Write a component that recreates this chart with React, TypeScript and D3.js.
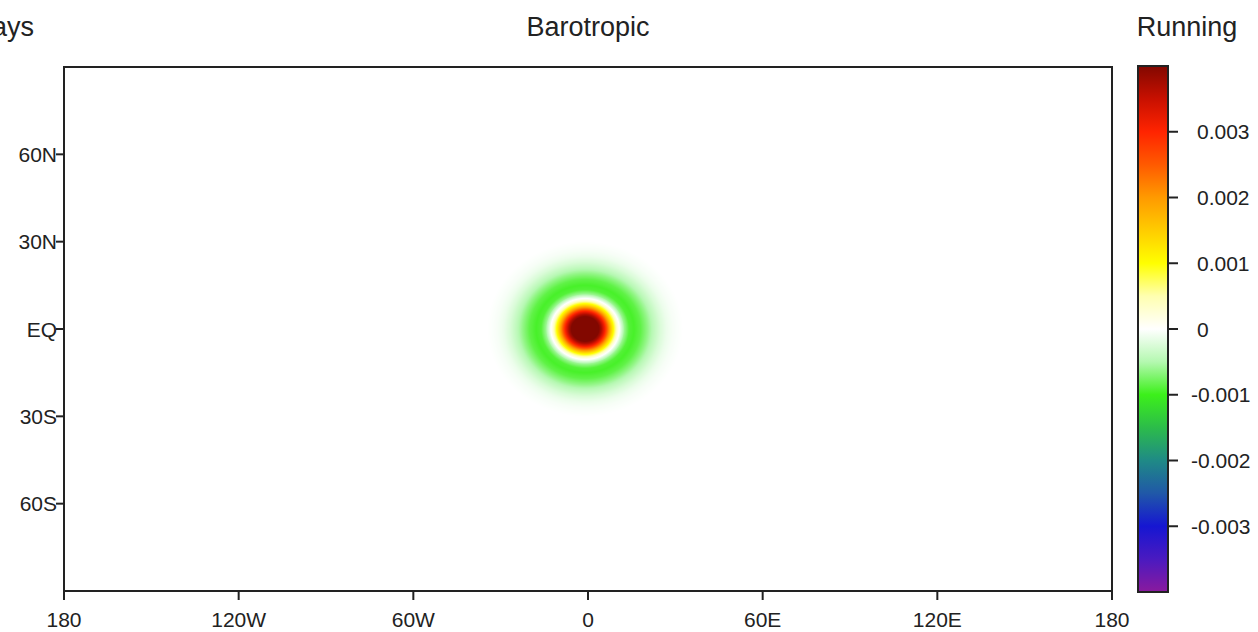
import React, { useEffect, useState } from "react";
import * as d3 from "d3";

// Axis ticks and labels
const lonTicks = [-180, -120, -60, 0, 60, 120, 180];
const lonLabels = ["180", "120W", "60W", "0", "60E", "120E", "180"];
const latTicks = [60, 30, 0, -30, -60];
const latLabels = ["60N", "30N", "EQ", "30S", "60S"];

// Colour bar ticks and labels
const barTicks = [0.003, 0.002, 0.001, 0, -0.001, -0.002, -0.003];
const barLabels = ["0.003", "0.002", "0.001", "0", "-0.001", "-0.002", "-0.003"];

// Colour map stops (value -> colour)
const cmapValues = [-0.004, -0.0035, -0.003, -0.0025, -0.002, -0.0015, -0.001, -0.0005, 0, 0.0005, 0.001, 0.0015, 0.002, 0.0025, 0.003, 0.0035, 0.004];
const cmapColors = ["#8a1a9e", "#4a1ac0", "#1616d2", "#2058a8", "#1f8a86", "#2cbc4a", "#3cf01a", "#b4f8b0", "#ffffff", "#ffffb0", "#ffff00", "#ffcc00", "#ff9a00", "#ff5a00", "#ff2400", "#c81000", "#820800"];

// Radial profile of the anomaly around its centre (degrees -> value)
const profileRadius = [0, 3, 4, 5, 6, 7, 8, 9, 10, 11, 12, 13.5, 15, 17, 19, 21, 23, 25, 27, 30];
const profileValue = [0.0046, 0.0043, 0.0041, 0.0037, 0.0031, 0.0023, 0.0015, 0.0008, 0.0002, -0.0002, -0.0006, -0.0009, -0.00095, -0.00085, -0.00065, -0.00043, -0.00025, -0.00012, -0.00005, 0];
const centreLon = -1;
const centreLat = 0;
const lonStretch = 1.12;

const W = 1258;
const H = 632;
const plot = { left: 64, right: 1112, top: 67, bottom: 591 };
const bar = { left: 1138, right: 1168, top: 66, bottom: 592 };

const xScale = d3.scaleLinear().domain([-180, 180]).range([plot.left, plot.right]);
const yScale = d3.scaleLinear().domain([90, -90]).range([plot.top, plot.bottom]);
const barScale = d3.scaleLinear().domain([-0.004, 0.004]).range([bar.bottom, bar.top]);
const colour = d3
  .scaleLinear<string>()
  .domain(cmapValues)
  .range(cmapColors)
  .interpolate(d3.interpolateRgb)
  .clamp(true);
const profile = d3.scaleLinear().domain(profileRadius).range(profileValue).clamp(true);

const FONT = "'Liberation Sans', Arial, Helvetica, sans-serif";
const INK = "#222";

export default function App() {
  const [href, setHref] = useState("");

  useEffect(() => {
    const w = Math.round(plot.right - plot.left);
    const h = Math.round(plot.bottom - plot.top);
    const canvas = document.createElement("canvas");
    canvas.width = w;
    canvas.height = h;
    const ctx = canvas.getContext("2d");
    if (!ctx) return;
    const img = ctx.createImageData(w, h);
    // colour lookup table (odd size so that zero falls exactly on the middle entry)
    const N = 2001;
    const lut: number[][] = [];
    for (let k = 0; k < N; k++) {
      const v = -0.004 + (0.008 * k) / (N - 1);
      const c = d3.rgb(colour(v));
      lut.push([c.r, c.g, c.b]);
    }
    const maxR = profileRadius[profileRadius.length - 1];
    for (let j = 0; j < h; j++) {
      const lat = yScale.invert(plot.top + j + 0.5);
      for (let i = 0; i < w; i++) {
        const lon = xScale.invert(plot.left + i + 0.5);
        const dx = (lon - centreLon) / lonStretch;
        const dy = lat - centreLat;
        const r = Math.sqrt(dx * dx + dy * dy);
        const v = r >= maxR ? 0 : profile(r);
        let k = Math.round(((v + 0.004) / 0.008) * (N - 1));
        k = Math.max(0, Math.min(N - 1, k));
        const c = lut[k];
        const p = (j * w + i) * 4;
        img.data[p] = c[0];
        img.data[p + 1] = c[1];
        img.data[p + 2] = c[2];
        img.data[p + 3] = 255;
      }
    }
    ctx.putImageData(img, 0, 0);
    setHref(canvas.toDataURL());
  }, []);

  const gradStops = cmapValues.map((v, i) => ({
    offset: ((v - cmapValues[0]) / (cmapValues[cmapValues.length - 1] - cmapValues[0])) * 100,
    color: cmapColors[i],
  }));

  return (
    <svg
      width={W}
      height={H}
      style={{ position: "absolute", left: 0, top: 0, background: "#fff" }}
      fontFamily={FONT}
    >
      <defs>
        <linearGradient id="barGrad" x1="0" y1="1" x2="0" y2="0">
          {gradStops.map((s, i) => (
            <stop key={i} offset={`${s.offset}%`} stopColor={s.color} />
          ))}
        </linearGradient>
      </defs>
      <rect x={0} y={0} width={W} height={H} fill="#fff" />

      {/* titles */}
      <text x={34} y={36} textAnchor="end" fontSize={27} fill={INK}>
        Days
      </text>
      <text x={(plot.left + plot.right) / 2} y={36} textAnchor="middle" fontSize={27} fill={INK}>
        Barotropic
      </text>
      <text x={1187} y={36} textAnchor="middle" fontSize={27} fill={INK}>
        Running
      </text>

      {/* field */}
      {href && (
        <image
          href={href}
          x={plot.left}
          y={plot.top}
          width={plot.right - plot.left}
          height={plot.bottom - plot.top}
          preserveAspectRatio="none"
        />
      )}

      {/* frame */}
      <rect
        x={plot.left}
        y={plot.top}
        width={plot.right - plot.left}
        height={plot.bottom - plot.top}
        fill="none"
        stroke={INK}
        strokeWidth={2}
      />

      {/* longitude axis */}
      {lonTicks.map((t, i) => (
        <g key={`lon${i}`}>
          <line x1={xScale(t)} x2={xScale(t)} y1={plot.bottom} y2={plot.bottom + 9} stroke={INK} strokeWidth={2} />
          <text x={xScale(t)} y={627} textAnchor="middle" fontSize={21} fill={INK}>
            {lonLabels[i]}
          </text>
        </g>
      ))}

      {/* latitude axis */}
      {latTicks.map((t, i) => (
        <g key={`lat${i}`}>
          <line x1={plot.left - 8} x2={plot.left} y1={yScale(t)} y2={yScale(t)} stroke={INK} strokeWidth={2} />
          <text x={plot.left - 7} y={yScale(t)} dy="0.36em" textAnchor="end" fontSize={21} fill={INK}>
            {latLabels[i]}
          </text>
        </g>
      ))}

      {/* colour bar */}
      <rect
        x={bar.left}
        y={bar.top}
        width={bar.right - bar.left}
        height={bar.bottom - bar.top}
        fill="url(#barGrad)"
        stroke={INK}
        strokeWidth={2}
      />
      {barTicks.map((t, i) => (
        <g key={`bar${i}`}>
          <line x1={bar.right} x2={bar.right + 10} y1={barScale(t)} y2={barScale(t)} stroke={INK} strokeWidth={2} />
          <text
            x={t < 0 ? 1191 : 1197}
            y={barScale(t)}
            dy="0.36em"
            textAnchor="start"
            fontSize={21}
            fill={INK}
          >
            {barLabels[i]}
          </text>
        </g>
      ))}
    </svg>
  );
}
